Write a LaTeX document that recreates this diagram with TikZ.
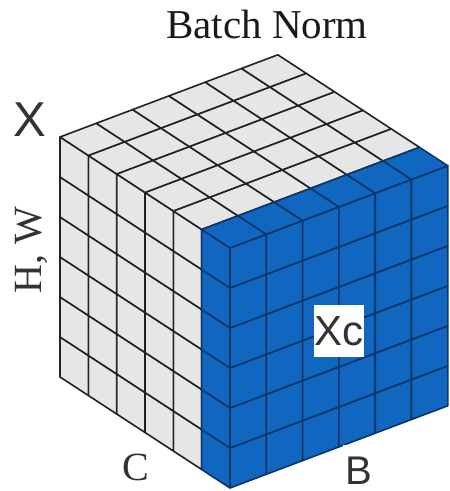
\documentclass[tikz,border=0pt]{standalone}
\usepackage{fontspec}
\newfontfamily\serifA{Liberation Serif}
\newfontfamily\sansA{Liberation Sans}
\definecolor{cellgray}{HTML}{E6E6E6}
\definecolor{cellblue}{HTML}{1166BF}
\definecolor{gridgray}{HTML}{222222}
\definecolor{gridblue}{HTML}{0A3568}
\definecolor{labelgray}{HTML}{333333}
\definecolor{titleblack}{HTML}{1A1A1A}
\begin{document}
\begin{tikzpicture}[
  graycell/.style={fill=cellgray, draw=gridgray, line width=1.6pt, line join=round},
  bluecell/.style={fill=cellblue, draw=gridblue, line width=1.6pt, line join=round},
  seriflabel/.style={font=\serifA\fontsize{40}{48}\selectfont, text=titleblack, inner sep=0pt},
  sanslabel/.style={font=\sansA\fontsize{42}{50}\selectfont, text=labelgray, inner sep=0pt},
  whitebox/.style={fill=white, draw=none, inner sep=0pt}
]
\useasboundingbox (0,0) rectangle (450pt,491pt);
\begin{scope}[shift={(230pt,3pt)}, x={(36.3pt,13.7pt)}, y={(0pt,40pt)}, z={(-28.33pt,18.5pt)}]
  % right face (B x HW), all blue
  \foreach \i [count=\ii from 1] in {0,...,5}
    \foreach \j [count=\jj from 1] in {0,...,5}
      \draw[bluecell] (\i,\j,0) -- (\ii,\j,0) -- (\ii,\jj,0) -- (\i,\jj,0) -- cycle;
  % left face (C x HW)
  \foreach \k [count=\kk from 2] in {1,...,5}
    \foreach \j [count=\jj from 1] in {0,...,5}
      \draw[graycell] (0,\j,\k) -- (0,\j,\kk) -- (0,\jj,\kk) -- (0,\jj,\k) -- cycle;
  \foreach \j [count=\jj from 1] in {0,...,5}
    \draw[bluecell] (0,\j,0) -- (0,\j,1) -- (0,\jj,1) -- (0,\jj,0) -- cycle;
  % top face (B x C)
  \foreach \i [count=\ii from 1] in {0,...,5}
    \foreach \k [count=\kk from 2] in {1,...,5}
      \draw[graycell] (\i,6,\k) -- (\ii,6,\k) -- (\ii,6,\kk) -- (\i,6,\kk) -- cycle;
  \foreach \i [count=\ii from 1] in {0,...,5}
    \draw[bluecell] (\i,6,0) -- (\ii,6,0) -- (\ii,6,1) -- (\i,6,1) -- cycle;
\end{scope}
% labels
\node[seriflabel, anchor=base, font=\serifA\fontsize{41}{48}\selectfont] (title) at (267pt,452pt) {Batch Norm};
\node[sanslabel, anchor=base, font=\sansA\fontsize{49}{56}\selectfont] (xlab) at (29.5pt,354pt) {X};
\node[seriflabel, anchor=base, rotate=90, text=labelgray] (hw) at (41pt,241pt) {H, W};
\node[seriflabel, anchor=base, text=labelgray] (clab) at (136pt,11pt) {C};
\node[whitebox, minimum width=31pt, minimum height=45pt, anchor=south west] (bbox) at (343pt,1pt) {};
\node[sanslabel, anchor=base, font=\sansA\fontsize{40}{48}\selectfont] (blab) at (359pt,6pt) {B};
\node[whitebox, minimum width=50pt, minimum height=52pt] (xcbox) at (339pt,160pt) {};
\node[sanslabel, anchor=base] (xclab) at (339pt,145pt) {Xc};
\end{tikzpicture}
\end{document}
